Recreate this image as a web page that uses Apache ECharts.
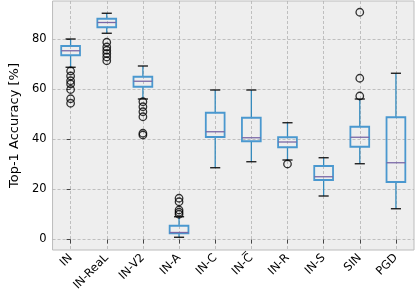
<!DOCTYPE html>
<html><head><meta charset="utf-8">
<script src="https://cdn.jsdelivr.net/npm/echarts@6/dist/echarts.min.js"></script>
<style>html,body{margin:0;padding:0;background:#fff}#c{width:415px;height:294px}</style>
</head><body><div id="c"></div>
<script>
const categories = ['IN','IN-ReaL','IN-V2','IN-A','IN-C','IN-C\u0305','IN-R','IN-S','SIN','PGD'];
const whiskerLow  = [68.9, 82.5, 56.2, 0.9, 28.7, 31.1, 31.8, 17.4, 30.3, 12.3];
const q1          = [73.7, 84.9, 61.1, 2.5, 41.0, 39.3, 36.9, 23.8, 37.1, 23.0];
const median      = [75.5, 86.8, 63.3, 2.8, 43.1, 40.7, 39.0, 25.1, 40.9, 30.7];
const q3          = [77.4, 88.3, 65.1, 5.5, 50.7, 48.7, 40.9, 29.4, 45.1, 48.9];
const whiskerHigh = [80.2, 90.5, 69.4, 9.1, 59.8, 59.8, 46.7, 32.7, 56.2, 66.5];
const outliers = [
  [67.4, 65.4, 63.5, 62.2, 60.0, 56.3, 54.5],
  [78.9, 77.0, 75.7, 74.4, 73.0, 71.5],
  [55.1, 53.1, 51.1, 49.1, 42.5, 41.8],
  [16.5, 15.1, 11.8, 10.9, 10.1],
  [],
  [],
  [30.2],
  [],
  [90.9, 64.5, 57.4],
  []
];
const yTicks = [0, 20, 40, 60, 80];
const xIdx = categories.map((c, i) => i);

const boxData = categories.map((c, i) => [i, whiskerLow[i], q1[i], median[i], q3[i], whiskerHigh[i]]);
const flierData = [];
outliers.forEach((arr, i) => arr.forEach(v => flierData.push([i, v])));

const chart = echarts.init(document.getElementById('c'), null, {renderer: 'canvas'});
const font = 'DejaVu Sans';
chart.setOption({
  animation: false,
  backgroundColor: '#ffffff',
  grid: {left: 36, right: 1, top: 1, bottom: 44, show: true, backgroundColor: '#eeeeee', borderColor: '#bcbcbc', borderWidth: 1},
  xAxis: {
    type: 'value', min: -0.5, max: 9.5,
    axisLine: {show: false},
    axisTick: {show: true, customValues: xIdx, length: 4, lineStyle: {color: '#444', width: 1}},
    axisLabel: {customValues: xIdx, formatter: v => categories[v], rotate: 45, fontFamily: font, fontSize: 11.5, color: '#000', margin: 6},
    splitLine: {show: true, lineStyle: {color: '#b2b2b2', type: [3, 2], width: 0.8}}
  },
  yAxis: {
    type: 'value', min: -4.2, max: 95.4,
    name: 'Top-1 Accuracy [%]', nameLocation: 'middle', nameGap: 30,
    nameTextStyle: {fontFamily: font, fontSize: 13, color: '#000'},
    axisLine: {show: false},
    axisTick: {show: true, customValues: yTicks, length: 4, lineStyle: {color: '#444', width: 1}},
    axisLabel: {customValues: yTicks, fontFamily: font, fontSize: 11.5, color: '#000', margin: 6},
    splitLine: {show: true, lineStyle: {color: '#b2b2b2', type: [3, 2], width: 0.8}}
  },
  series: [
    {
      type: 'custom',
      data: boxData,
      encode: {x: 0, y: [1, 2, 3, 4, 5]},
      renderItem: function (params, api) {
        const x = api.value(0);
        const pL = api.coord([x, api.value(1)]);
        const p1 = api.coord([x, api.value(2)]);
        const pM = api.coord([x, api.value(3)]);
        const p3 = api.coord([x, api.value(4)]);
        const pH = api.coord([x, api.value(5)]);
        const w = api.size([1, 0])[0];
        const hb = w * 0.26, hc = w * 0.14;
        const cx = pL[0];
        const blue = '#348ABD';
        return {
          type: 'group',
          children: [
            {type: 'line', shape: {x1: cx, y1: pL[1], x2: cx, y2: p1[1]}, style: {stroke: blue, lineWidth: 1.3}},
            {type: 'line', shape: {x1: cx, y1: p3[1], x2: cx, y2: pH[1]}, style: {stroke: blue, lineWidth: 1.3}},
            {type: 'line', shape: {x1: cx - hc, y1: pL[1], x2: cx + hc, y2: pL[1]}, style: {stroke: '#111', lineWidth: 1.3}},
            {type: 'line', shape: {x1: cx - hc, y1: pH[1], x2: cx + hc, y2: pH[1]}, style: {stroke: '#111', lineWidth: 1.3}},
            {type: 'rect', shape: {x: cx - hb, y: p3[1], width: 2 * hb, height: p1[1] - p3[1]}, style: {fill: 'none', stroke: '#4a98cf', lineWidth: 1.8}},
            {type: 'line', shape: {x1: cx - hb, y1: pM[1], x2: cx + hb, y2: pM[1]}, style: {stroke: '#7A68A6', lineWidth: 1.3}}
          ]
        };
      }
    },
    {
      type: 'scatter',
      data: flierData,
      symbol: 'circle',
      symbolSize: 7.5,
      itemStyle: {color: 'rgba(0,0,0,0)', borderColor: '#000', borderWidth: 1.3}
    }
  ]
});
</script></body></html>
